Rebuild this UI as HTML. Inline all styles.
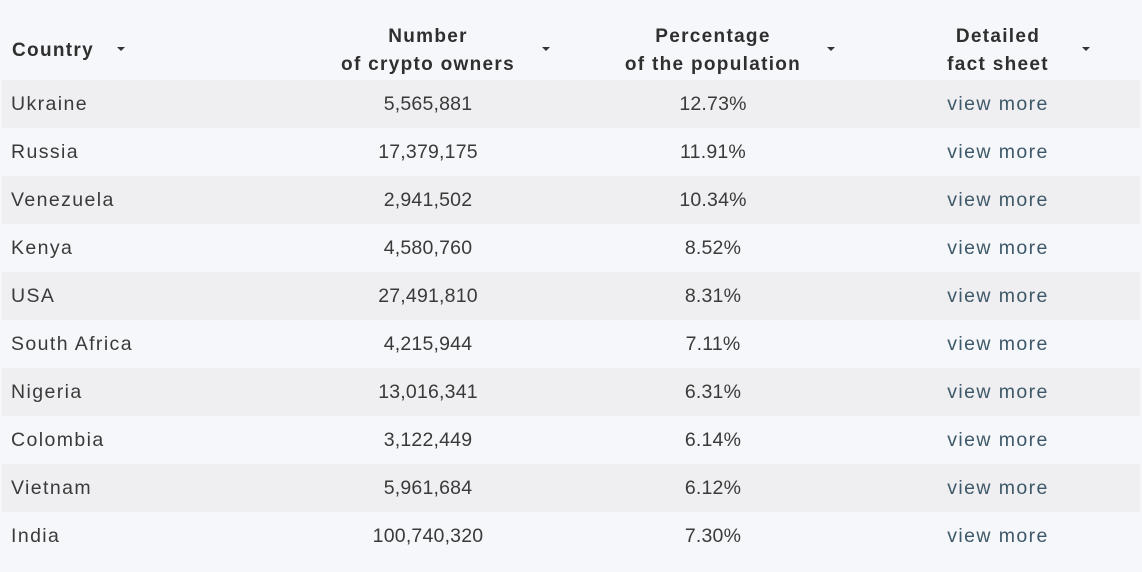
<!DOCTYPE html>
<html><head><meta charset="utf-8"><style>
body{margin:0;width:1142px;height:572px;background:#f6f7fa;font-family:"Liberation Sans",sans-serif;color:#3a3a3a;overflow:hidden;position:relative}
.row{position:absolute;left:2px;width:1138px;height:48px}
.alt{background:#efeff1}
.cell{position:absolute;top:0;height:48px;line-height:48px;font-size:19.5px;white-space:nowrap}
.word{letter-spacing:1.4px}
.num{letter-spacing:0.2px}
.cen{transform:translateX(-50%)}
.h{position:absolute;font-size:19px;font-weight:bold;color:#2f2f2f;letter-spacing:1.3px;line-height:28px;text-align:center;white-space:nowrap;transform:translateX(-50%)}
.arr{position:absolute;top:47px;width:0;height:0;border-left:4px solid transparent;border-right:4px solid transparent;border-top:4px solid #333}
a{color:#3d5868;text-decoration:none}
</style></head><body>
<div class="h" style="left:53px;top:37px">Country</div>
<div class="arr" style="left:117px"></div>
<div class="h" style="left:428px;top:23px">Number<br>of crypto owners</div>
<div class="arr" style="left:542px"></div>
<div class="h" style="left:713px;top:23px">Percentage<br>of the population</div>
<div class="arr" style="left:827px"></div>
<div class="h" style="left:998px;top:23px">Detailed<br>fact sheet</div>
<div class="arr" style="left:1082px"></div>
<div id="tb"></div>
<script>
const countries=["Ukraine","Russia","Venezuela","Kenya","USA","South Africa","Nigeria","Colombia","Vietnam","India"];
const owners=["5,565,881","17,379,175","2,941,502","4,580,760","27,491,810","4,215,944","13,016,341","3,122,449","5,961,684","100,740,320"];
const pcts=["12.73%","11.91%","10.34%","8.52%","8.31%","7.11%","6.31%","6.14%","6.12%","7.30%"];
const tb=document.getElementById('tb');
countries.forEach((c,i)=>{
const r=document.createElement('div');
r.className='row'+(i%2===0?' alt':'');
r.style.top=(80+48*i)+'px';


r.innerHTML='<div class="cell word" style="left:9px">'+c+'</div><div class="cell num cen" style="left:426px">'+owners[i]+'</div><div class="cell num cen" style="left:711px">'+pcts[i]+'</div><div class="cell word cen" style="left:996px"><a href="#">view more</a></div>';
const a=r.querySelector('a');


tb.appendChild(r);
});
</script>
</body></html>
